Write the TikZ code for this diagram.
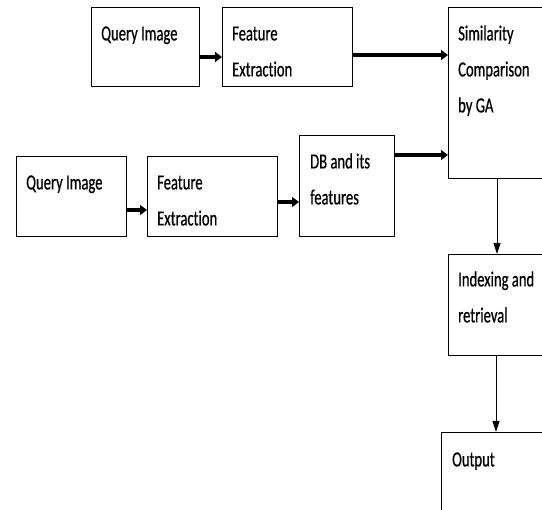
\documentclass[tikz,border=0pt]{standalone}
\usepackage{fontspec}
\setmainfont{Carlito}[FakeStretch=0.68, FakeBold=0.6, Ligatures=NoCommon]
\usetikzlibrary{positioning, arrows.meta}

\begin{document}
\begin{tikzpicture}[x=1pt, y=-1pt,
	box/.style={draw, line width=1.3pt, anchor=north west, inner sep=0pt},
	txt/.style={anchor=north west, inner sep=0pt, align=left,
		font=\fontsize{21.5}{36}\selectfont},
	fat/.style={line width=3.5pt, -{Triangle[length=7pt, width=10pt]}},
	slim/.style={line width=1pt, -{Triangle[length=11pt, width=7pt]}}]
	\useasboundingbox (0,0) rectangle (542,510);
	\clip (0,0) rectangle (542,510);
	% upper row
	\node[box, minimum width=108pt, minimum height=79pt] (qi1) at (91,7) {};
	\node[box, minimum width=130pt, minimum height=79pt] (fe1) at (222,7) {};
	\node[box, minimum width=110pt, minimum height=171pt] (sim) at (448,7) {};
	% lower row
	\node[box, minimum width=110pt, minimum height=80pt] (qi2) at (16,156) {};
	\node[box, minimum width=130pt, minimum height=80pt] (fe2) at (147,156) {};
	\node[box, minimum width=95pt, minimum height=101pt] (db) at (299,135) {};
	% right column
	\node[box, minimum width=110pt, minimum height=101pt] (idx) at (448,254) {};
	\node[box, minimum width=120pt, minimum height=100pt] (out) at (441,432) {};
	% texts
	\node[txt] (tqi1) at ([shift={(10,8)}]qi1.north west) {\strut Query Image};
	\node[txt] (tfe1) at ([shift={(10,8)}]fe1.north west) {\strut Feature\\Extraction};
	\node[txt] (tsim) at ([shift={(10,8)}]sim.north west) {\strut Similarity\\Comparison\\by GA};
	\node[txt] (tqi2) at ([shift={(10,8)}]qi2.north west) {\strut Query Image};
	\node[txt] (tfe2) at ([shift={(10,8)}]fe2.north west) {\strut Feature\\Extraction};
	\node[txt] (tdb) at ([shift={(11,8)}]db.north west) {\strut DB and its\\features};
	\node[txt] (tidx) at ([shift={(10,7)}]idx.north west) {\strut Indexing and\\retrieval};
	\node[txt] (tout) at ([shift={(11,9)}]out.north west) {\strut Output};
	% connectors
	\draw[fat] (qi1.east |- 0,57) -- (fe1.west |- 0,57);
	\draw[fat] (fe1.east |- 0,55) -- (sim.west |- 0,55);
	\draw[fat] (qi2.east |- 0,210) -- (fe2.west |- 0,210);
	\draw[fat] (fe2.east |- 0,202) -- (db.west |- 0,202);
	\draw[fat] (db.east |- 0,155) -- (sim.west |- 0,155);
	\draw[slim] (sim.south -| 497,0) -- (idx.north -| 497,0);
	\draw[slim] (idx.south -| 496,0) -- (out.north -| 496,0);
\end{tikzpicture}
\end{document}
